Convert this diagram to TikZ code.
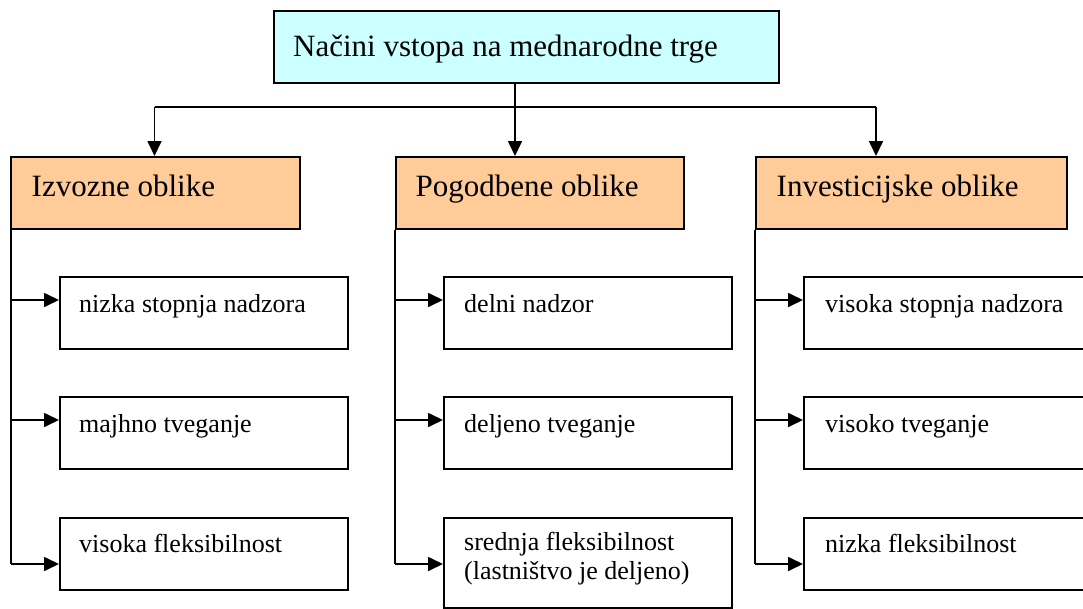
\documentclass[tikz,border=0pt]{standalone}
\usepackage{fontspec}
\setmainfont{Liberation Serif}
\usetikzlibrary{arrows.meta,calc}
\definecolor{topfill}{HTML}{CCFFFF}
\definecolor{catfill}{HTML}{FFCC99}
\begin{document}
\begin{tikzpicture}[x=1pt,y=-1pt,
  box/.style={draw, line width=1.8pt, inner sep=0pt, anchor=north west},
  topbox/.style={box, fill=topfill, minimum width=505pt, minimum height=72pt},
  catbox/.style={box, fill=catfill, minimum height=72pt},
  itembox/.style={box, fill=white, minimum height=72pt},
  bigtxt/.style={anchor=base west, inner sep=0pt, font=\fontsize{31}{36}\selectfont},
  smalltxt/.style={anchor=base west, inner sep=0pt, font=\fontsize{26}{29}\selectfont},
  conn/.style={line width=1.7pt},
  arr/.style={conn, -{Triangle[length=15pt,width=14pt]}}
]
\useasboundingbox (0,0) rectangle (1083,608);
\clip (0,0) rectangle (1083,608);

% top box
\node[topbox] (top) at (273,10) {};
\node[bigtxt] (ttop) at (293,56.5) {Načini vstopa na mednarodne trge};

% category boxes
\node[catbox, minimum width=289pt] (c1) at (10,156) {};
\node[catbox, minimum width=288pt] (c2) at (395,156) {};
\node[catbox, minimum width=311pt] (c3) at (755,156) {};
\node[bigtxt] (tc1) at (31.5,196.5) {Izvozne oblike};
\node[bigtxt] (tc2) at (415.5,196.5) {Pogodbene oblike};
\node[bigtxt] (tc3) at (776.5,196.5) {Investicijske oblike};

% item boxes
\node[itembox, minimum width=288pt] (i11) at (59,276) {};
\node[itembox, minimum width=288pt] (i12) at (59,396) {};
\node[itembox, minimum width=288pt] (i13) at (59,517) {};
\node[itembox, minimum width=288pt] (i21) at (443,276) {};
\node[itembox, minimum width=288pt] (i22) at (443,396) {};
\node[itembox, minimum width=288pt, minimum height=90pt] (i23) at (443,517) {};
\node[itembox, minimum width=300pt] (i31) at (803,276) {};
\node[itembox, minimum width=300pt] (i32) at (803,396) {};
\node[itembox, minimum width=300pt] (i33) at (803,517) {};

\node[smalltxt] (t11) at (79,312) {nizka stopnja nadzora};
\node[smalltxt] (t12) at (79,432) {majhno tveganje};
\node[smalltxt] (t13) at (79,552) {visoka fleksibilnost};
\node[smalltxt] (t21) at (464,312) {delni nadzor};
\node[smalltxt] (t22) at (464,432) {deljeno tveganje};
\node[smalltxt] (t23) at (464,550) {\begin{tabular}[t]{@{}l@{}}srednja fleksibilnost\\(lastništvo je deljeno)\end{tabular}};
\node[smalltxt] (t31) at (825,312) {visoka stopnja nadzora};
\node[smalltxt] (t32) at (825,432) {visoko tveganje};
\node[smalltxt] (t33) at (825,552) {nizka fleksibilnost};

% top connectors
\coordinate (j) at (515,107);
\coordinate (h1) at (154.5,107);
\coordinate (h3) at (876,107);
\draw[conn] (top.south -| j) -- (j);
\draw[conn] (h1) -- (h3);
\draw[arr] (h1) -- (h1 |- c1.north);
\draw[arr] (j) -- (j |- c2.north);
\draw[arr] (h3) -- (h3 |- c3.north);

% column connectors
\foreach \c/\x in {1/11, 2/395, 3/755} {
  \coordinate (a\c1) at (\x,300);
  \coordinate (a\c2) at (\x,420);
  \coordinate (a\c3) at (\x,564);
  \draw[conn] (c\c.south west -| a\c1) -- (a\c3);
  \draw[arr] (a\c1) -- (a\c1 -| i\c1.west);
  \draw[arr] (a\c2) -- (a\c2 -| i\c2.west);
  \draw[arr] (a\c3) -- (a\c3 -| i\c3.west);
}
\end{tikzpicture}
\end{document}
